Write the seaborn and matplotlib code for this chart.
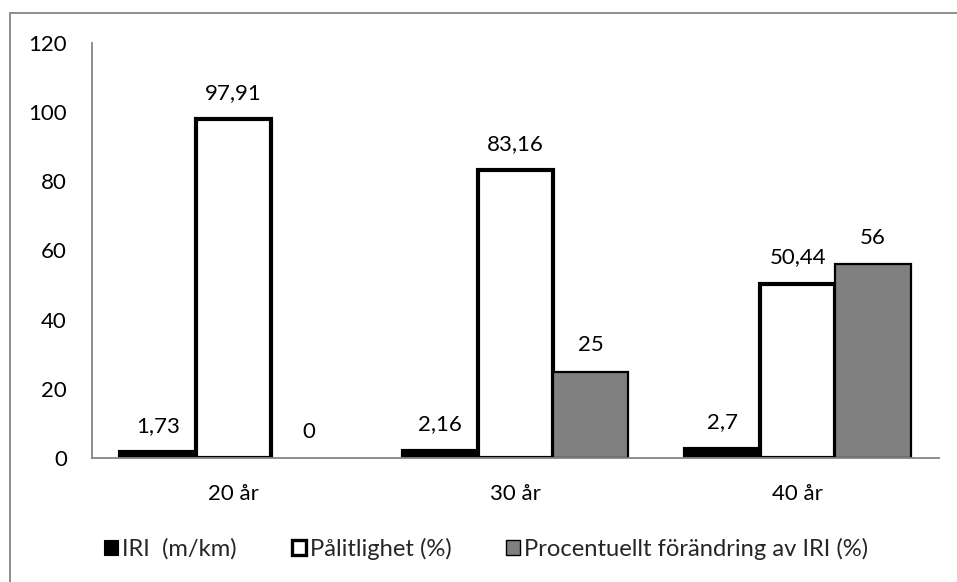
import matplotlib
matplotlib.use("Agg")
import matplotlib.pyplot as plt
from matplotlib.lines import Line2D
from matplotlib.patches import Patch
import seaborn as sns
import pandas as pd

# Data
categories = ["20 år", "30 år", "40 år"]
series_names = ["IRI  (m/km)", "Pålitlighet (%)", "Procentuellt förändring av IRI (%)"]
iri = [1.73, 2.16, 2.7]
reliability = [97.91, 83.16, 50.44]
iri_change = [0, 25, 56]
value_labels = {
    series_names[0]: ["1,73", "2,16", "2,7"],
    series_names[1]: ["97,91", "83,16", "50,44"],
    series_names[2]: ["0", "25", "56"],
}
y_ticks = [0, 20, 40, 60, 80, 100, 120]

df = pd.DataFrame({
    "Ålder": categories * 3,
    "Serie": [s for s in series_names for _ in categories],
    "Värde": iri + reliability + iri_change,
})

sns.set_theme(style="white")
plt.rcParams["font.family"] = ["Lato", "DejaVu Sans"]

W, H = 957, 582
NUM_FS = 16

fills = ["#000000", "#ffffff", "#808080"]
edge_widths = [3.0, 3.0, 1.6]

fig = plt.figure(figsize=(W / 100, H / 100), dpi=100)
ax = fig.add_axes([92 / W, 1 - 458 / H, (939 - 92) / W, (458 - 43) / H])

sns.barplot(data=df, x="Ålder", y="Värde", hue="Serie", hue_order=series_names,
            palette=fills, width=0.8, ax=ax, legend=False, saturation=1)

for cont, name, lw in zip(ax.containers, series_names, edge_widths):
    for bar, txt in zip(cont, value_labels[name]):
        bar.set_edgecolor("black")
        bar.set_linewidth(lw if bar.get_height() > 0 else 0)
        bar.set_joinstyle("miter")
        x = bar.get_x() + bar.get_width() / 2
        ax.annotate(txt, (x, bar.get_height()), xytext=(0, 19),
                    textcoords="offset points", ha="center", va="center",
                    fontsize=NUM_FS, color="black")

ax.set_ylim(0, 120)
ax.set_yticks(y_ticks)
ax.set_xlim(-0.5, 2.5)
ax.set_xlabel("")
ax.set_ylabel("")
ax.tick_params(axis="both", length=0, labelsize=NUM_FS, colors="black")
ax.tick_params(axis="y", pad=18)
ax.tick_params(axis="x", pad=19)
for side in ["top", "right"]:
    ax.spines[side].set_visible(False)
for side in ["left", "bottom"]:
    ax.spines[side].set_color("#868686")
    ax.spines[side].set_linewidth(1.3)
ax.spines["bottom"].set_zorder(5)

# Legend font sized so the longest entry spans ~346 px
renderer = fig.canvas.get_renderer()
probe = fig.text(0, 0, series_names[2], fontsize=14)
probe_w = probe.get_window_extent(renderer).width
probe.remove()
leg_fs = 14 * 346 / probe_w
px_per_em = leg_fs * 100 / 72

handles = [Patch(facecolor=f, edgecolor="black", linewidth=w)
           for f, w in zip(fills, [0.8, 2.4, 1.0])]
fig.legend(handles, series_names, loc="center left", bbox_to_anchor=(104 / W, 1 - 549 / H),
           ncol=3, frameon=False, fontsize=leg_fs, borderpad=0, borderaxespad=0,
           handlelength=14 / px_per_em, handleheight=14 / px_per_em,
           handletextpad=4 / px_per_em, columnspacing=55 / px_per_em)

# Chart-area frame (top and left edges)
fig.add_artist(Line2D([10 / W, 10 / W], [0, 1 - 13 / H], color="#868686", lw=1.3,
                      transform=fig.transFigure))
fig.add_artist(Line2D([10 / W, 1], [1 - 13 / H, 1 - 13 / H], color="#868686", lw=1.3,
                      transform=fig.transFigure))

fig.savefig("out.png", dpi=100)
